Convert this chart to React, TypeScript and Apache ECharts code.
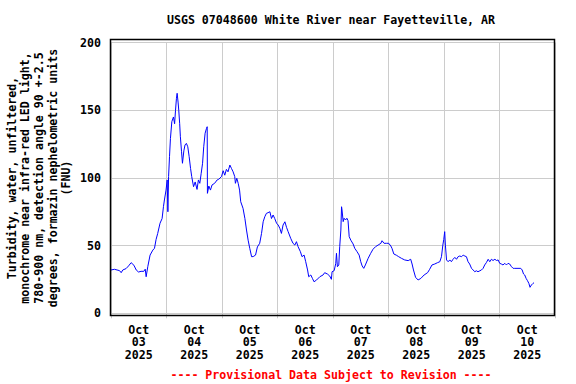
import React, { useEffect, useRef } from "react";
import * as echarts from "echarts";

const TITLE = "USGS 07048600 White River near Fayetteville, AR";
const Y_NAME_LINES = [
  "Turbidity, water, unfiltered,",
  "monochrome near infra-red LED light,",
  "780-900 nm, detection angle 90 +-2.5",
  "degrees, formazin nephelometric units",
  "(FNU)",
];
const FOOTER = "---- Provisional Data Subject to Revision ----";
const MONTH = "Oct";
const YEAR = "2025";
const DAYS = ["03", "04", "05", "06", "07", "08", "09", "10"];
const Y_TICKS = [0, 50, 100, 150, 200];

// hours since Oct 03 2025 00:00
const hours = [
  0, 1.5, 3.7, 4.4, 5.1, 6.5, 7.6, 8.7, 9.9, 10.9,
  11.9, 13.0, 14.2, 14.8, 15.2, 15.9, 16.9, 18.1, 18.8, 19.5,
  20.2, 21.2, 22.1, 22.7, 23.1, 23.8, 24.3, 24.6, 24.9, 25.3,
  25.7, 26.3, 27.0, 27.5, 27.9, 28.3, 28.6, 29.0, 29.3, 29.7,
  30.0, 30.5, 30.9, 31.5, 32.0, 32.6, 33.2, 33.8, 34.4, 34.9,
  35.7, 36.4, 37.2, 37.8, 38.4, 39.0, 39.6, 40.1, 40.7, 41.3,
  41.6, 41.7, 42.3, 43.0, 43.7, 44.8, 45.9,
  46.6, 47.8, 48.5, 49.2, 49.9, 50.6, 51.4, 52.1, 52.8, 53.5,
  53.8, 54.4, 55.0, 55.6, 56.1, 57.1, 57.9, 58.6, 59.3, 60.0,
  60.8, 61.5, 62.5, 63.3, 64.3, 65.1, 65.8, 66.5, 67.2, 67.9,
  68.7, 69.4, 70.1, 70.8, 71.6, 72.3, 73.0, 73.7, 74.4, 75.2,
  75.9, 76.6, 77.7, 78.7, 79.5, 80.2, 80.9, 81.9, 82.6, 83.5,
  84.2, 85.0, 85.5, 86.4, 87.1, 87.8, 88.9, 90.3, 91.7,
  92.4, 93.6, 94.6, 95.3, 95.6, 96.5, 97.2, 97.5, 97.9, 98.5,
  98.9, 99.4, 99.7, 99.9, 100.4, 100.8, 101.4, 102.0, 102.5, 103.0,
  103.7, 104.7, 105.4, 106.4, 107.3, 108.0, 108.6, 109.3, 110.0, 111.2,
  112.3, 113.3, 114.4, 115.5, 116.7, 117.2, 118.1, 119.1, 120.1, 121.0,
  121.5, 122.3, 123.4, 124.4, 125.6, 127.0, 128.5, 129.6, 130.2, 130.8,
  131.7, 132.8, 134.0, 135.4, 136.9, 137.8, 138.8,
  140.0, 141.2, 142.2, 142.9, 143.5, 143.9, 144.3, 144.6, 145.1, 145.8,
  146.5, 147.2, 147.9, 148.7, 149.4, 150.1, 150.8, 151.6, 152.3, 153.0,
  153.7, 154.4, 155.1, 155.9, 156.6, 157.3, 158.0, 158.7, 159.5, 160.2,
  160.9, 161.6, 162.3, 163.1, 163.8, 164.5, 165.2, 166.0, 166.7, 167.4,
  168.1, 168.8, 169.5, 170.3, 171.0, 171.7, 172.4, 173.2, 173.9, 174.6,
  176.0, 177.2, 177.8, 178.4, 178.9, 179.5, 180.1, 180.7, 181.2, 181.8,
  182.5, 182.9,
];

const turbidity = [
  32, 32.5, 31.5, 30, 32, 33, 35, 37.4, 35.5, 32,
  30.5, 31, 31, 32.6, 27, 34.4, 43, 46.7, 48, 54.6,
  59, 66.5, 70, 79, 83.7, 91, 98.5, 75, 101, 115.7,
  129, 141.5, 145, 140, 150, 158.8, 162.5, 156, 150, 140,
  130.4, 119.3, 110.8, 120, 124.3, 125.5, 123, 115.7, 107, 101,
  93.5, 97, 91.5, 98.5, 96, 103.4, 110.8, 123, 133, 136.6,
  137.8, 88.6, 94, 91, 94.8, 96, 98.5,
  99, 101, 105.3, 102, 106.3, 104.5, 109.5, 107, 104.5, 101,
  96, 99.7, 96, 91, 82.4, 77.5, 70, 61.5, 54, 48,
  41.8, 41.9, 43, 49, 51.7, 59, 67.6, 71.3, 73.8, 74.3,
  75, 70, 72.6, 70, 66.5, 65.2, 62.8, 59, 65.2, 67.6,
  63.5, 60.3, 55.4, 51.7, 50.4, 52.9, 49.2, 45.5, 41.8, 43,
  38.1, 32, 27, 28.3, 25.8, 23.3, 24.6, 27, 28.3,
  30, 29, 27.5, 25.1, 30.7, 31.5, 36.9, 44.3, 34.4, 35.7,
  49.2, 61.5, 78.7, 76.3, 67.7, 70.2, 68.9, 70.2, 68.4, 56.6,
  54, 51.2, 48, 45.5, 43, 38.1, 35, 33.2, 35.7, 40.6,
  44.3, 47.3, 49.2, 50.4, 51.7, 53.6, 51.7, 51.7, 51.7, 49.7,
  48, 43.8, 42.9, 41.8, 40.6, 39.4, 38.9, 39.9, 36.4, 32,
  26.6, 24.6, 25.8, 28.3, 30, 32.5, 35.7,
  36.4, 37.4, 38.1, 41.8, 50.4, 54.6, 60.3, 50.4, 39.4, 38.1,
  39.4, 38.1, 39.9, 41.3, 39.9, 41.8, 42.3, 41.8, 43, 42.3,
  41.8, 38.1, 36.4, 33.2, 32, 30.7, 31.4, 30.7, 31.4, 32,
  33.2, 35.7, 37.4, 39.9, 38.1, 39.9, 39, 39.9, 39, 39.4,
  36.9, 36.4, 35.7, 36.9, 35.7, 36.9, 36.4, 34.4, 33.2, 33.2,
  33.2, 33.2, 32, 29, 28.3, 25.8, 24.1, 22.1, 19.2, 20.9,
  22.1, 22.6,
];

const FONT = "'DejaVu Sans Mono', 'Liberation Mono', monospace";
const FS = 11.6;

export default function App() {
  const ref = useRef<HTMLDivElement>(null);

  useEffect(() => {
    if (!ref.current) return;
    const chart = echarts.init(ref.current, undefined, { renderer: "svg" });
    const data = hours.map((h, i) => [h, turbidity[i]]);
    const dayLabels = DAYS.map((d) => `${MONTH}\n${d}\n${YEAR}`);

    chart.setOption({
      animation: false,
      backgroundColor: "#ffffff",
      grid: { left: 111, right: 21, top: 42.5, bottom: 70.7, containLabel: false },
      xAxis: [
        {
          type: "value",
          min: 0,
          max: 192,
          interval: 24,
          axisLabel: { show: false },
          axisLine: { show: false },
          axisTick: { show: true, length: 5, lineStyle: { color: "#cccccc", width: 1 } },
          splitLine: { show: true, lineStyle: { color: "#cccccc", width: 1 } },
        },
        {
          type: "category",
          data: dayLabels,
          position: "bottom",
          boundaryGap: true,
          axisLine: { show: false },
          axisTick: { show: false },
          splitLine: { show: false },
          axisLabel: {
            interval: 0,
            margin: 10,
            fontFamily: FONT,
            fontWeight: "bold",
            fontSize: FS,
            lineHeight: 12.7,
            color: "#000",
          },
        },
      ],
      yAxis: {
        type: "value",
        min: Y_TICKS[0],
        max: Y_TICKS[Y_TICKS.length - 1],
        interval: 50,
        axisLine: { show: false },
        axisTick: { show: false },
        splitLine: { show: true, lineStyle: { color: "#cccccc", width: 1 } },
        axisLabel: {
          margin: 10,
          fontFamily: FONT,
          fontWeight: "bold",
          fontSize: FS,
          color: "#000",
        },
      },
      graphic: [
        {
          type: "rect",
          z: 100,
          shape: { x: 110.5, y: 39.5, width: 444, height: 276 },
          style: { fill: "none", stroke: "#000", lineWidth: 1.5 },
        },
        {
          type: "text",
          x: 331,
          y: 20,
          style: {
            text: TITLE,
            font: `bold ${FS}px ${FONT}`,
            fill: "#000",
            textAlign: "center",
            textVerticalAlign: "middle",
          },
        },
        {
          type: "text",
          x: 331,
          y: 375,
          style: {
            text: FOOTER,
            font: `bold ${FS}px ${FONT}`,
            fill: "#ff0000",
            textAlign: "center",
            textVerticalAlign: "middle",
          },
        },
        {
          type: "text",
          x: 39,
          y: 178,
          rotation: Math.PI / 2,
          style: {
            text: Y_NAME_LINES.join("\n"),
            font: `bold ${FS}px ${FONT}`,
            lineHeight: 13.6,
            fill: "#000",
            textAlign: "center",
            textVerticalAlign: "middle",
          },
        },
      ],
      series: [
        {
          type: "line",
          xAxisIndex: 0,
          yAxisIndex: 0,
          data,
          showSymbol: false,
          lineStyle: { color: "#0000ff", width: 1 },
        },
      ],
    });

    return () => chart.dispose();
  }, []);

  return (
    <div
      ref={ref}
      style={{ position: "fixed", left: 0, top: 0, width: 576, height: 384, background: "#fff" }}
    />
  );
}
